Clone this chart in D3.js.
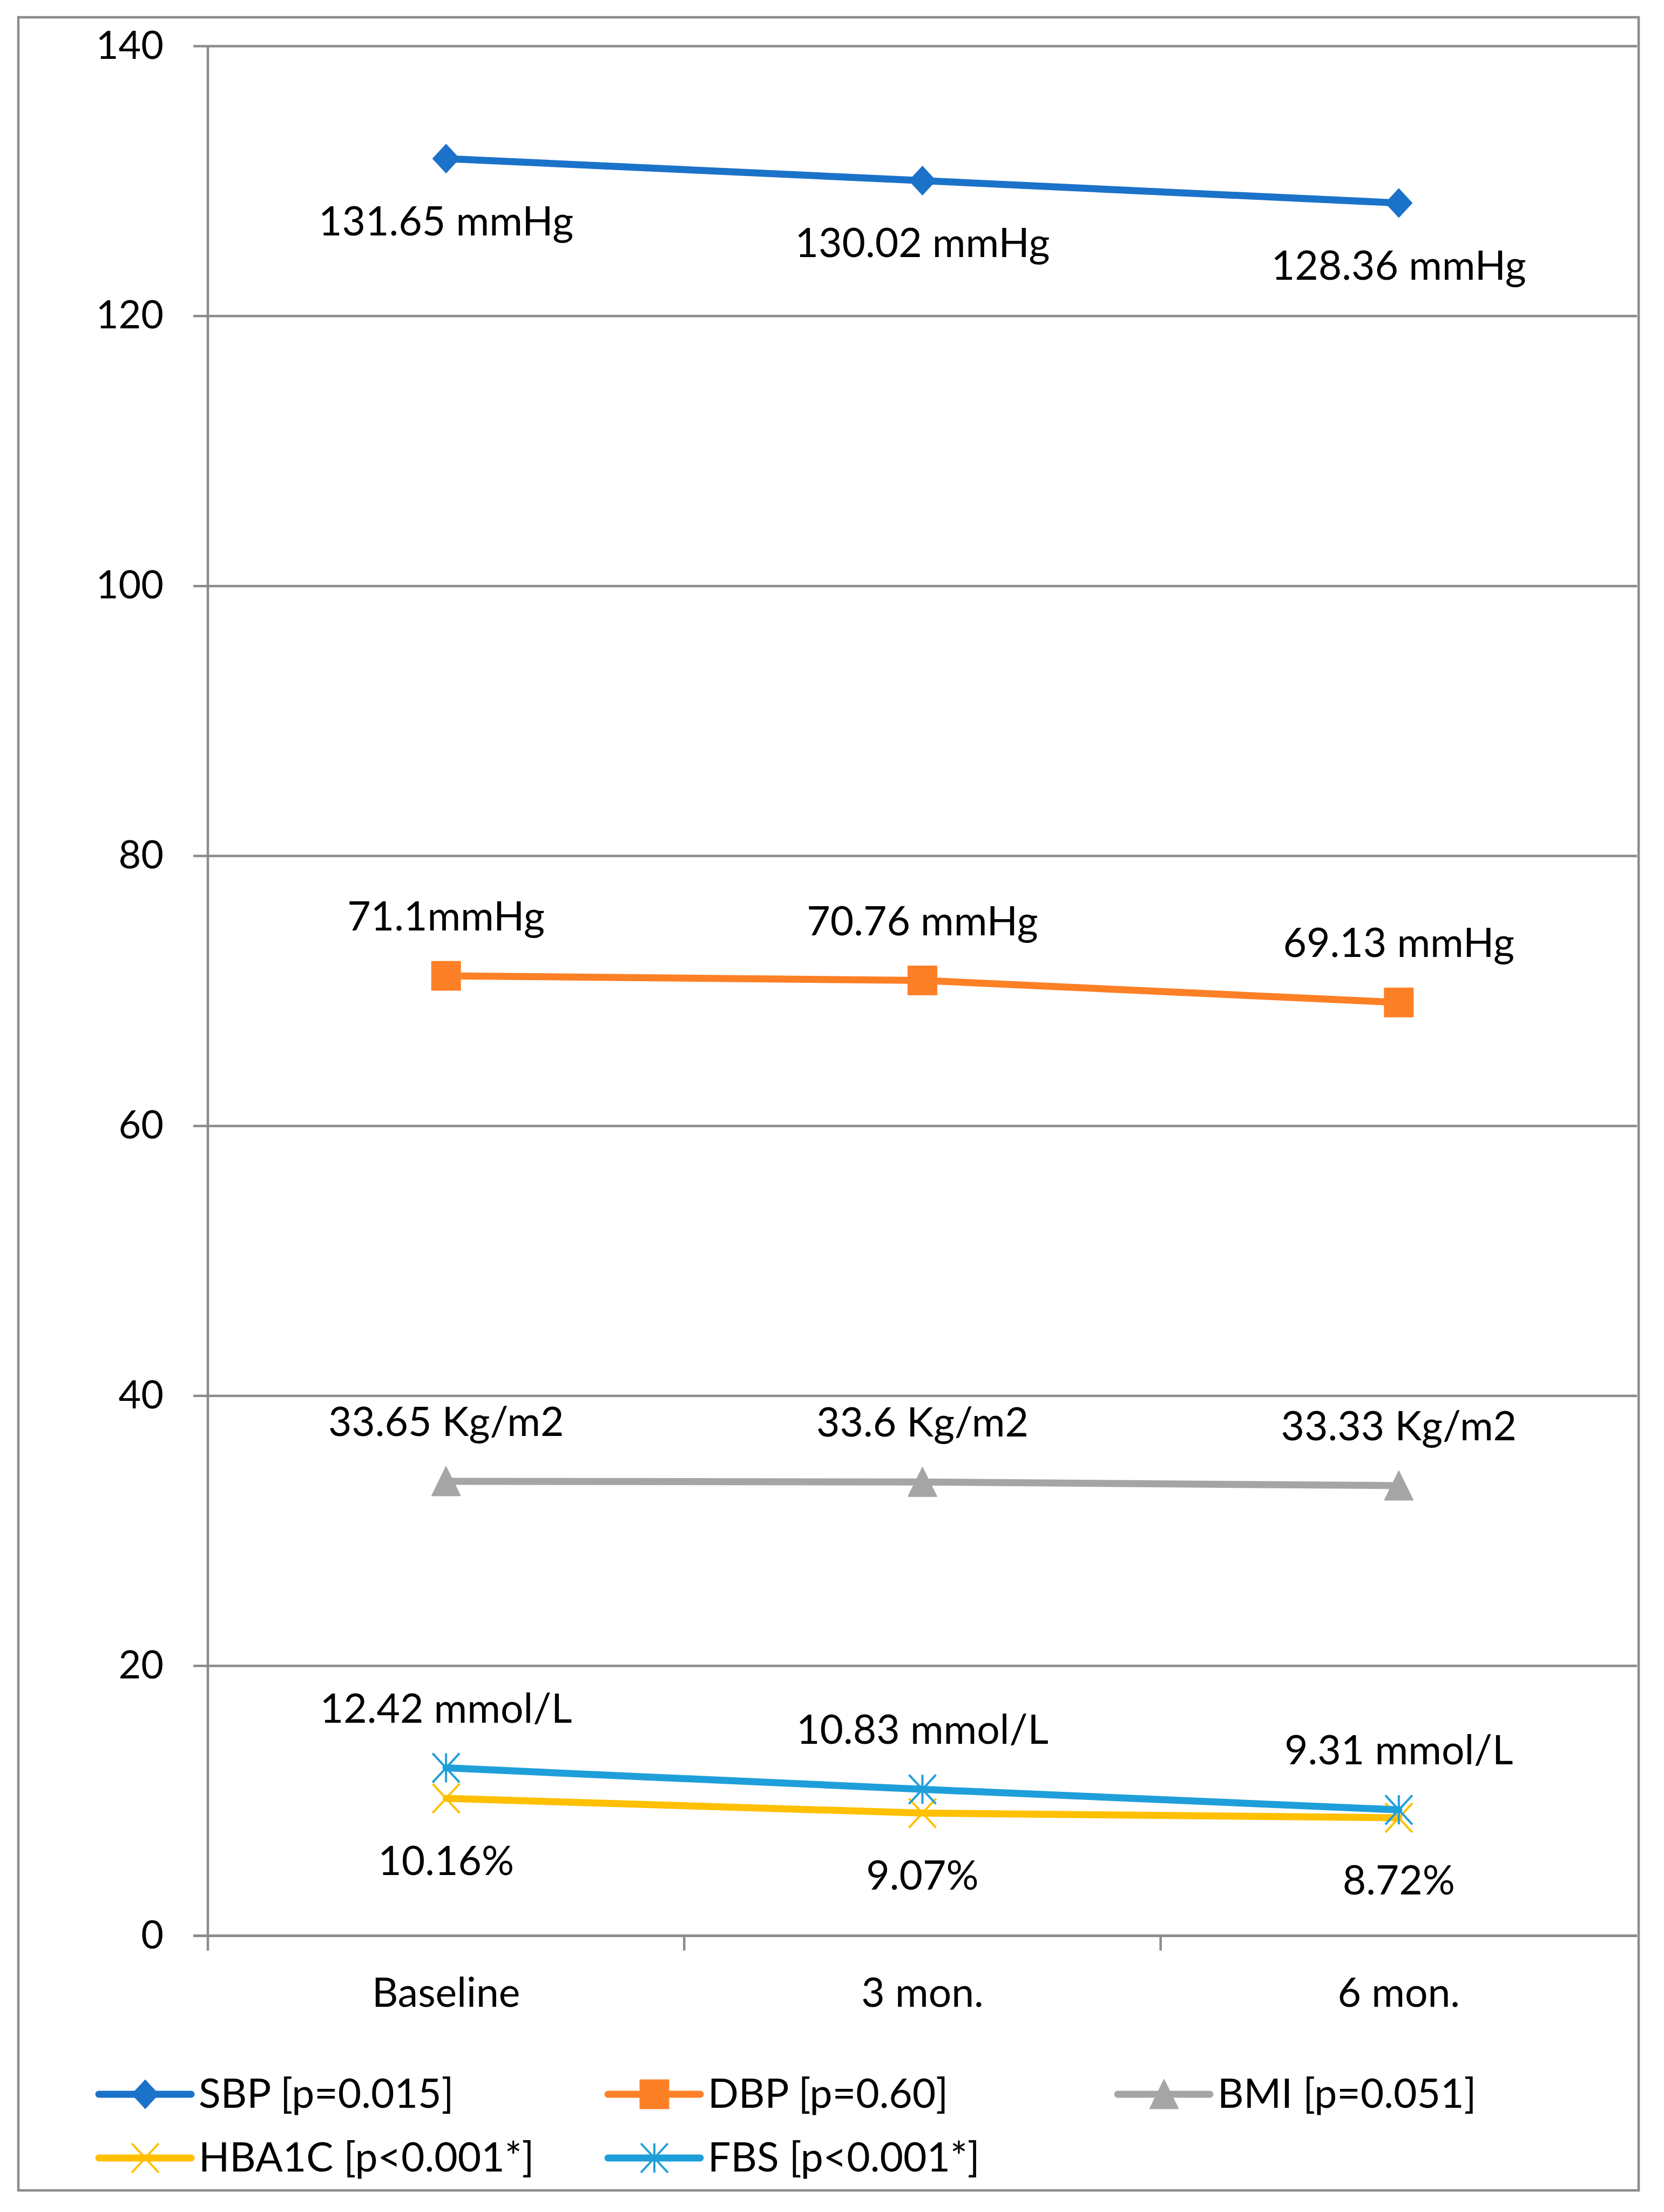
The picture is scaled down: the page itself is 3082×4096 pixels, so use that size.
<!DOCTYPE html>
<html>
<head>
<meta charset="utf-8">
<script src="https://cdn.jsdelivr.net/npm/d3@7"></script>
<style>
  body { margin: 0; background: #fff; }
  text { font-family: Lato, "Open Sans", sans-serif; fill: #000; }
</style>
</head>
<body>
<div id="chart"></div>
<script>
// chart values
const categories = ["Baseline", "3 mon.", "6 mon."];
const yTicks = [0, 20, 40, 60, 80, 100, 120, 140];

const sbp = [131.65, 130.02, 128.36];
const dbp = [71.1, 70.76, 69.13];
const bmi = [33.65, 33.6, 33.33];
const hba1c = [10.16, 9.07, 8.72];
const fbs = [12.42, 10.83, 9.31];

const sbpLabels = ["131.65 mmHg", "130.02 mmHg", "128.36 mmHg"];
const dbpLabels = ["71.1mmHg", "70.76 mmHg", "69.13 mmHg"];
const bmiLabels = ["33.65 Kg/m2", "33.6 Kg/m2", "33.33 Kg/m2"];
const hba1cLabels = ["10.16%", "9.07%", "8.72%"];
const fbsLabels = ["12.42 mmol/L", "10.83 mmol/L", "9.31 mmol/L"];

const seriesNames = ["SBP [p=0.015]", "DBP [p=0.60]", "BMI [p=0.051]", "HBA1C [p<0.001*]", "FBS [p<0.001*]"];

const W = 3082, H = 4096;
const fontSize = 72;
const labelSize = 75;
const gridColor = "#8c8c8c";

// series table built from the arrays above
const series = [
    {name: seriesNames[0], values: sbp, labels: sbpLabels, color: "#1b72c9", marker: "diamond", labelPos: "below"},
    {name: seriesNames[1], values: dbp, labels: dbpLabels, color: "#fd8027", marker: "square", labelPos: "above"},
    {name: seriesNames[2], values: bmi, labels: bmiLabels, color: "#a5a5a5", marker: "triangle", labelPos: "above"},
    {name: seriesNames[3], values: hba1c, labels: hba1cLabels, color: "#ffc000", marker: "x", labelPos: "below"},
    {name: seriesNames[4], values: fbs, labels: fbsLabels, color: "#1f9fda", marker: "star", labelPos: "above"}
];

const svg = d3.select("#chart")
    .append("svg")
    .attr("width", W)
    .attr("height", H)
    .style("font-size", labelSize + "px");

svg.append("rect").attr("width", W).attr("height", H).attr("fill", "#fff");

// outer chart border
svg.append("rect")
    .attr("x", 34).attr("y", 32)
    .attr("width", 3001).attr("height", 4024)
    .attr("fill", "none")
    .attr("stroke", gridColor)
    .attr("stroke-width", 4.5);

const plotLeft = 385, plotRight = 3032, plotTop = 85, plotBottom = 3584;
const tickLen = 27;

const x = d3.scaleBand().domain(categories).range([plotLeft, plotRight]);
const y = d3.scaleLinear().domain([0, 140]).range([plotBottom, plotTop]);

// horizontal gridlines + y tick labels (axis hung from the right edge)
const yAxis = svg.append("g")
    .attr("transform", `translate(${plotRight},0)`)
    .call(d3.axisLeft(y)
        .tickValues(yTicks)
        .tickSize(plotRight - plotLeft + tickLen)
        .tickSizeOuter(0)
        .tickPadding(55)
        .tickFormat(d3.format("d")));
yAxis.select(".domain").remove();
yAxis.selectAll(".tick line")
    .attr("stroke", gridColor)
    .attr("stroke-width", d => d === 0 ? 5 : 4.5);
yAxis.selectAll(".tick text")
    .attr("font-size", fontSize)
    .attr("font-family", "Lato, sans-serif");

// vertical axis line
svg.append("line")
    .attr("x1", plotLeft).attr("x2", plotLeft)
    .attr("y1", plotTop).attr("y2", plotBottom + tickLen + 1)
    .attr("stroke", gridColor)
    .attr("stroke-width", 4.5);

// x axis labels
const xAxis = svg.append("g")
    .attr("transform", `translate(0,${plotBottom})`)
    .call(d3.axisBottom(x).tickSize(0).tickSizeOuter(0));
xAxis.select(".domain").remove();
xAxis.selectAll(".tick text")
    .attr("y", 132)
    .attr("dy", null)
    .attr("font-size", labelSize)
    .attr("font-family", "Lato, sans-serif");

// category boundary ticks
const bounds = categories.map(c => x(c)).concat([x(categories[categories.length - 1]) + x.bandwidth()]);
svg.append("g").selectAll("line")
    .data(bounds.slice(1, -1))
    .join("line")
    .attr("x1", d => d).attr("x2", d => d)
    .attr("y1", plotBottom).attr("y2", plotBottom + tickLen + 1)
    .attr("stroke", gridColor)
    .attr("stroke-width", 4.5);

const cx = c => x(c) + x.bandwidth() / 2;

function markerPath(type) {
    switch (type) {
        case "diamond": return "M0,-27L25,0L0,27L-25,0Z";
        case "square": return "M-27,-27H27V27H-27Z";
        case "triangle": return "M0,-28L27,27H-27Z";
        case "x": return "M-25,-27L25,27M25,-27L-25,27";
        case "star": return "M0,-27V27M-25,-27L25,27M25,-27L-25,27";
    }
}

function drawMarker(g, s) {
    const open = s.marker === "x" || s.marker === "star";
    g.append("path")
        .attr("d", markerPath(s.marker))
        .attr("fill", open ? "none" : s.color)
        .attr("stroke", s.color)
        .attr("stroke-width", open ? 4 : 1)
        .attr("stroke-linejoin", "round");
}

const line = d3.line()
    .x((d, i) => cx(categories[i]))
    .y(d => y(d));

// lines, markers and labels per series
series.forEach(s => {
    const g = svg.append("g");
    g.append("path")
        .datum(s.values)
        .attr("d", line)
        .attr("fill", "none")
        .attr("stroke", s.color)
        .attr("stroke-width", 13)
        .attr("stroke-linejoin", "round")
        .attr("stroke-linecap", "round");

    s.values.forEach((v, i) => {
        const mg = g.append("g")
            .attr("transform", `translate(${cx(categories[i])},${y(v)})`);
        drawMarker(mg, s);
    });
});

series.forEach(s => {
    svg.append("g").selectAll("text")
        .data(s.values)
        .join("text")
        .attr("x", (d, i) => cx(categories[i]))
        .attr("y", d => y(d) + (s.labelPos === "above" ? -84 : 142))
        .attr("text-anchor", "middle")
        .text((d, i) => s.labels[i]);
});

// legend
const legendCols = [183, 1126, 2070];
const legendRows = [3878, 3996];
series.forEach((s, i) => {
    const lx = legendCols[i % 3];
    const ly = legendRows[Math.floor(i / 3)];
    const g = svg.append("g").attr("transform", `translate(${lx},${ly})`);
    g.append("line")
        .attr("x1", 0).attr("x2", 171)
        .attr("stroke", s.color)
        .attr("stroke-width", 13)
        .attr("stroke-linecap", "round");
    const mg = g.append("g").attr("transform", "translate(86,0)");
    drawMarker(mg, s);
    g.append("text")
        .attr("x", 185)
        .attr("y", 25)
        .text(s.name);
});
</script>
</body>
</html>
